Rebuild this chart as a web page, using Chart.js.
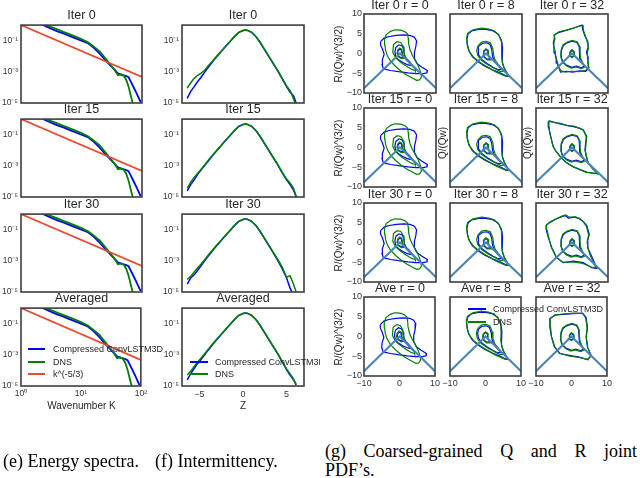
<!DOCTYPE html>
<html><head><meta charset="utf-8">
<script src="https://cdn.jsdelivr.net/npm/chart.js@4.4.1/dist/chart.umd.min.js"></script>
<style>
html,body{margin:0;padding:0;background:#fff;}
#fig{position:relative;width:640px;height:478px;overflow:hidden;background:#fff;font-family:"Liberation Sans",Arial,sans-serif;}
#fig canvas{position:absolute;}
.lbl{position:absolute;white-space:nowrap;color:#262626;line-height:1;}
.cap{position:absolute;white-space:nowrap;font-family:"Liberation Serif","Times New Roman",serif;font-size:18px;color:#000;line-height:1;}
</style></head><body><div id="fig"></div>
<script>
// ---------------- DATA ----------------
// (e) energy spectra: wavenumber and log10(E)
const kWave = [1,1.5,2,3,4,5,6,8,10,13,16,20,25,30,35,40,45,50,55,60,65,70,80,90,95];
const specBlueLog10 = [0.64,0.34,0.12,-0.19,-0.40,-0.53,-0.66,-0.85,-1.0,-1.18,-1.46,-1.83,-2.27,-2.58,-2.86,-3.10,-3.18,-3.23,-3.28,-3.35,-3.61,-3.86,-4.32,-4.75,-4.95];
const specGreenLog10 = [0.6,0.34,0.17,-0.09,-0.28,-0.43,-0.55,-0.74,-0.89,-1.12,-1.38,-1.69,-2.15,-2.53,-2.85,-3.22,-3.16,-3.25,-3.52,-3.95,-4.5,-4.98,-5.6,null,null];
const kolmoK = [1,100];
const kolmoE = [1,4.64e-4];
const specTitles = ["Iter 0","Iter 15","Iter 30","Averaged"];
const specYTicks = [1e-5,1e-3,1e-1];
const specXTicks = [1,10,100];

// (f) intermittency PDFs: Z and log10(P)
const zGrid = [-6.4,-6.0,-5.6,-5.2,-4.8,-4.4,-4.0,-3.5,-3.0,-2.5,-2.0,-1.5,-1.0,-0.5,0.0,0.25,0.5,1.0,1.5,2.0,2.5,3.0,3.5,4.0,4.5,5.0,5.4,5.8,6.1];
const pdfIter0Blue   = [-4.7,-4.25,-3.95,-3.62,-3.35,-3.02,-2.72,-2.36,-2.02,-1.7,-1.38,-1.07,-0.75,-0.48,-0.35,-0.32,-0.34,-0.47,-0.75,-1.15,-1.6,-2.05,-2.5,-2.95,-3.45,-3.95,-4.3,-4.55,-4.98];
const pdfIter0Green  = [-4.05,-3.7,-3.42,-3.22,-3.08,-2.9,-2.62,-2.3,-1.98,-1.68,-1.36,-1.05,-0.74,-0.47,-0.34,-0.31,-0.33,-0.46,-0.74,-1.13,-1.58,-2.03,-2.48,-2.92,-3.42,-3.9,-4.2,-4.72,-5.2];
const pdfIter15Blue  = [-4.6,-4.2,-3.9,-3.55,-3.25,-2.98,-2.7,-2.35,-2.02,-1.7,-1.38,-1.07,-0.75,-0.48,-0.35,-0.32,-0.34,-0.47,-0.75,-1.15,-1.6,-2.05,-2.5,-2.95,-3.45,-3.9,-4.2,-4.55,-5.0];
const pdfIter15Green = [-4.45,-4.05,-3.75,-3.48,-3.22,-2.95,-2.66,-2.32,-2.0,-1.68,-1.36,-1.05,-0.74,-0.47,-0.34,-0.31,-0.33,-0.46,-0.74,-1.13,-1.58,-2.03,-2.48,-2.92,-3.4,-3.85,-4.1,-4.45,-4.95];
const pdfIter30Blue  = [-4.5,-4.1,-3.9,-3.6,-3.3,-3.0,-2.7,-2.35,-2.02,-1.7,-1.38,-1.07,-0.75,-0.48,-0.35,-0.32,-0.34,-0.47,-0.75,-1.15,-1.6,-2.05,-2.5,-2.98,-3.5,-4.1,-4.75,-5.2,-5.5];
const pdfIter30Green = [-4.2,-4.0,-3.72,-3.45,-3.2,-2.92,-2.64,-2.3,-1.98,-1.68,-1.36,-1.05,-0.74,-0.47,-0.34,-0.31,-0.33,-0.46,-0.74,-1.13,-1.58,-2.03,-2.48,-2.92,-3.4,-4.05,-3.95,-4.5,-5.0];
const pdfAveBlue     = [-4.6,-4.2,-3.88,-3.55,-3.28,-3.0,-2.7,-2.35,-2.02,-1.7,-1.38,-1.07,-0.75,-0.48,-0.35,-0.32,-0.34,-0.47,-0.75,-1.15,-1.6,-2.05,-2.5,-2.95,-3.45,-3.95,-4.3,-4.6,-4.95];
const pdfAveGreen    = [-4.3,-4.05,-3.75,-3.45,-3.2,-2.93,-2.65,-2.31,-1.99,-1.68,-1.36,-1.05,-0.74,-0.47,-0.34,-0.31,-0.33,-0.46,-0.74,-1.13,-1.58,-2.03,-2.48,-2.92,-3.42,-3.9,-4.22,-4.55,-4.9];
const zTicks = [-5,0,5];

// (g) Q-R joint PDF contours (closed loops), per radius column
const tentLine = [[-10,-8.8],[0,0],[10,-8.8]];
const r0BlueOuter  = [[-5.4,3.0],[-4.4,3.9],[-3.0,4.3],[-1.0,4.6],[1.0,4.7],[2.8,4.6],[4.0,4.1],[4.6,3.2],[4.4,1.8],[4.0,0.2],[4.0,-1.2],[4.7,-2.5],[6.0,-3.4],[7.6,-4.3],[7.5,-4.9],[6.5,-5.1],[4.6,-5.1],[2.2,-4.9],[-0.4,-4.6],[-2.6,-4.3],[-4.6,-3.9],[-5.0,-2.8],[-4.9,-1.6],[-4.4,-0.2],[-4.9,1.2],[-5.4,2.1]];
const r0GreenOuter = [[-4.3,3.6],[-3.8,4.8],[-2.6,5.6],[-1.4,6.0],[0.2,5.9],[1.4,5.5],[2.1,4.9],[2.3,3.8],[2.4,2.5],[2.8,0.9],[3.4,-0.4],[4.2,-1.7],[5.0,-3.0],[5.6,-4.4],[5.9,-5.3],[5.9,-6.1],[5.4,-6.7],[4.6,-6.8],[3.4,-6.2],[2.0,-5.5],[0.5,-4.6],[-1.2,-3.3],[-2.6,-2.0],[-3.5,-0.6],[-4.0,0.8],[-4.2,2.2]];
const r0BlueMid    = [[-1.2,1.5],[-0.3,2.2],[0.6,1.9],[1.1,1.0],[1.2,-0.3],[1.7,-1.2],[2.6,-2.0],[3.3,-2.8],[2.8,-3.0],[2.0,-2.8],[0.8,-2.3],[-0.4,-1.6],[-1.2,-0.8],[-1.4,0.4]];
const r0GreenMid   = [[-1.8,2.3],[-0.8,3.0],[0.2,2.8],[0.9,1.8],[1.1,0.2],[1.6,-1.4],[2.8,-2.7],[4.2,-3.9],[4.3,-4.3],[3.4,-4.1],[1.8,-3.2],[0.2,-2.2],[-1.2,-1.1],[-2.0,0.3]];
const r0BlueInner  = [[-0.6,0.6],[-0.1,1.1],[0.4,0.9],[0.6,-0.2],[1.0,-1.0],[0.4,-1.1],[-0.4,-0.7],[-0.7,0.0]];
const r0GreenInner = [[-0.7,0.8],[-0.1,1.4],[0.5,1.1],[0.7,-0.1],[1.3,-1.2],[0.4,-1.3],[-0.5,-0.8],[-0.8,0.1]];

const r8BlueOuter  = [[-5.3,3.6],[-5.0,4.9],[-4.0,5.7],[-2.0,6.1],[0.0,6.1],[1.8,5.8],[3.4,4.9],[4.3,3.4],[4.6,1.5],[4.5,-0.5],[4.5,-2.2],[5.0,-3.6],[5.8,-4.9],[6.2,-5.8],[5.4,-5.6],[4.2,-5.0],[2.0,-4.2],[-0.3,-3.2],[-2.2,-2.1],[-3.8,-0.8],[-4.8,0.8],[-5.2,2.2]];
const r8GreenOuter = [[-5.4,3.8],[-5.1,5.1],[-3.6,6.0],[-1.2,6.4],[0.8,6.2],[2.4,5.7],[3.6,4.6],[4.3,2.9],[4.4,0.8],[4.3,-1.0],[4.7,-2.8],[5.4,-4.4],[6.3,-5.8],[5.6,-5.8],[4.6,-5.4],[2.6,-4.6],[0.4,-3.4],[-1.6,-2.3],[-3.4,-1.0],[-4.6,0.4],[-5.1,2.0]];
const r8BlueMid    = [[-2.0,1.8],[-1.0,2.6],[0.2,2.7],[1.1,2.3],[1.6,1.0],[1.8,-0.6],[2.3,-1.9],[3.4,-3.1],[4.3,-4.0],[3.4,-4.1],[2.0,-3.5],[0.4,-2.6],[-1.2,-1.5],[-2.0,-0.4],[-2.2,0.8]];
const r8GreenMid   = [[-2.2,2.0],[-1.2,2.9],[0.0,3.1],[1.2,2.7],[1.9,1.2],[2.1,-0.4],[2.6,-1.8],[3.8,-3.2],[5.0,-4.5],[4.0,-4.5],[2.4,-3.8],[0.6,-2.9],[-1.2,-1.8],[-2.3,-0.5],[-2.6,0.8]];
const r8BlueInner  = [[-0.6,0.5],[0.0,1.0],[0.5,0.7],[0.6,-0.5],[1.2,-1.4],[0.2,-1.4],[-0.6,-0.7]];
const r8GreenInner = [[-0.7,0.6],[0.0,1.2],[0.6,0.8],[0.7,-0.5],[1.5,-1.6],[0.3,-1.6],[-0.8,-0.7]];

const r32Iter0BlueOuter  = [[-4.9,3.8],[-4.9,4.6],[-3.8,5.3],[-1.9,5.8],[0.4,6.4],[1.8,6.9],[2.8,7.2],[3.0,6.0],[3.6,4.4],[4.4,3.0],[4.5,1.6],[4.0,0.4],[4.5,-1.0],[4.4,-2.4],[4.7,-3.6],[3.8,-4.5],[2.0,-4.4],[0.2,-4.7],[-1.6,-4.5],[-3.2,-4.7],[-3.6,-3.6],[-4.2,-2.4],[-4.4,-1.0],[-4.8,0.2],[-5.0,1.6],[-5.2,2.6]];
const r32Iter0GreenOuter = [[-4.7,3.8],[-5.0,4.7],[-3.6,5.5],[-1.6,5.9],[0.6,6.5],[2.0,6.9],[3.0,7.1],[3.2,5.8],[3.7,4.5],[4.2,3.1],[4.6,1.4],[4.2,0.2],[4.3,-1.2],[4.6,-2.6],[4.5,-3.8],[3.6,-4.3],[2.0,-4.6],[0.0,-4.5],[-1.8,-4.7],[-3.0,-4.4],[-3.8,-3.4],[-4.0,-2.2],[-4.6,-0.8],[-4.6,0.4],[-5.1,1.8],[-5.0,2.8]];
const r32Iter15BlueOuter  = [[-6.6,6.6],[-5.0,6.4],[-3.3,6.0],[-1.4,5.6],[0.4,5.3],[2.0,4.9],[3.1,4.5],[4.1,2.8],[3.8,1.2],[3.6,-0.6],[4.0,-2.4],[4.5,-4.0],[5.8,-5.4],[7.3,-6.6],[5.6,-6.5],[4.1,-6.2],[2.2,-5.6],[0.4,-4.9],[-1.6,-3.8],[-3.3,-2.3],[-4.4,-1.0],[-5.2,0.2],[-5.7,2.0],[-6.1,3.6],[-6.5,5.2]];
const r32Iter15GreenOuter = [[-6.4,6.8],[-4.8,6.3],[-3.1,6.1],[-1.2,5.5],[0.6,5.4],[2.2,4.8],[3.2,4.3],[4.0,2.6],[3.9,1.0],[3.7,-0.8],[4.1,-2.6],[4.6,-4.1],[5.9,-5.5],[7.2,-6.7],[5.4,-6.4],[3.9,-6.3],[2.0,-5.5],[0.2,-4.8],[-1.8,-3.7],[-3.4,-2.1],[-4.6,-0.8],[-5.3,0.4],[-5.8,2.2],[-6.2,3.8],[-6.4,5.4]];
const r32Iter30BlueOuter  = [[-7.2,3.4],[-7.2,4.3],[-6.1,5.1],[-4.3,6.0],[-2.6,6.6],[-1.9,6.8],[-1.0,6.2],[0.8,6.4],[2.0,6.0],[3.1,5.3],[4.1,4.3],[4.8,2.1],[4.3,0.2],[4.4,-1.4],[5.2,-3.0],[6.0,-4.6],[6.9,-6.6],[5.5,-6.4],[3.1,-5.1],[0.4,-4.7],[-2.4,-5.1],[-4.3,-3.8],[-5.6,-1.3],[-6.6,1.3]];
const r32Iter30GreenOuter = [[-7.0,3.3],[-7.1,4.5],[-5.9,5.3],[-4.1,6.1],[-2.4,6.8],[-1.7,7.0],[-0.8,6.4],[1.0,6.5],[2.2,6.1],[3.2,5.2],[4.0,4.1],[4.6,2.0],[4.2,0.0],[4.5,-1.6],[5.0,-3.1],[5.8,-4.7],[6.6,-6.4],[5.3,-6.2],[3.0,-5.3],[0.2,-4.9],[-2.6,-5.0],[-4.5,-3.6],[-5.8,-1.1],[-6.5,1.5]];
const r32AveBlueOuter  = [[-6.1,2.4],[-6.1,4.5],[-4.7,5.4],[-2.4,5.6],[0.4,5.8],[3.1,5.9],[4.1,4.9],[4.5,2.4],[4.1,-0.1],[4.5,-2.7],[5.5,-4.8],[4.6,-5.9],[2.2,-5.2],[-0.6,-4.8],[-3.3,-4.3],[-4.7,-2.7],[-5.6,-0.1]];
const r32AveGreenOuter = [[-5.9,2.5],[-6.0,4.6],[-4.5,5.5],[-2.2,5.7],[0.6,5.9],[3.2,5.8],[4.0,4.7],[4.4,2.2],[4.2,-0.3],[4.6,-2.9],[5.6,-4.9],[4.4,-5.8],[2.0,-5.3],[-0.8,-4.9],[-3.5,-4.2],[-4.9,-2.5],[-5.7,0.1]];
const r32BlueMid    = [[-2.4,2.0],[-1.4,2.7],[0.0,3.1],[1.4,2.8],[2.0,1.8],[2.1,0.4],[2.2,-1.2],[2.9,-2.4],[3.4,-3.2],[2.6,-3.6],[1.2,-3.2],[0.0,-3.5],[-1.4,-3.0],[-2.5,-2.2],[-3.0,-1.0],[-3.0,0.6]];
const r32GreenMid   = [[-2.5,2.2],[-1.3,2.9],[0.1,3.3],[1.5,2.9],[2.1,1.8],[2.2,0.2],[2.4,-1.3],[3.1,-2.6],[3.6,-3.4],[2.6,-3.8],[1.0,-3.4],[-0.2,-3.7],[-1.6,-3.1],[-2.7,-2.1],[-3.1,-0.8],[-3.0,0.9]];
const r32BlueInner  = [[-0.5,0.3],[0.0,0.8],[0.5,0.4],[0.6,-0.5],[0.0,-0.9],[-0.6,-0.5]];
const r32GreenInner = [[-0.6,0.4],[0.0,1.0],[0.6,0.5],[0.7,-0.6],[0.0,-1.0],[-0.7,-0.5]];
const qrRowNames = ["Iter 0","Iter 15","Iter 30","Ave"];
const qrRadii = ["r = 0","r = 8","r = 32"];
const qrYTicks = [-10,-5,0,5,10];
const qrXTicks = [-10,0,10];

// ---------------- DRAWING ----------------
const FONT = '"Liberation Sans", Arial, sans-serif';
const BLUE = '#0000ff', GREEN = '#008000', RED = '#e8492f', TENT = '#4a84b6', SPINE = '#3d3d3d';
const fig = document.getElementById('fig');

const boxPlugin = {id:'box', afterDatasetsDraw(c){
  const a = c.chartArea, x = c.ctx; x.save(); x.strokeStyle = SPINE; x.lineWidth = 1.6;
  x.strokeRect(a.left, a.top, a.right - a.left, a.bottom - a.top); x.restore(); }};

const SUP = {'0':'⁰','1':'¹','2':'²','3':'³','4':'⁴','5':'⁵','-':'⁻'};
const logFmt = v => '10' + String(Math.round(Math.log10(v))).split('').map(ch => SUP[ch]).join('');
const numFmt = v => String(v).replace('-', '\u2212');

function panel(o){
  const W = o.padL + o.w + o.padR, H = o.padT + o.h + o.padB;
  const cv = document.createElement('canvas'); cv.width = W; cv.height = H;
  cv.style.left = (o.left - o.padL) + 'px'; cv.style.top = (o.top - o.padT) + 'px';
  cv.style.width = W + 'px'; cv.style.height = H + 'px';
  fig.appendChild(cv);
  const ax = (sp, pos, size) => ({
    type: sp.type, position: pos, min: sp.min, max: sp.max,
    grid: {display:false, drawTicks:false}, border: {display:false},
    ticks: {display: sp.show, color:'#333', font:{family:FONT, size: sp.fs || 8.5}, padding: sp.pad,
            autoSkip:false, maxRotation:0, minRotation:0, callback: v => sp.fmt(v)},
    afterBuildTicks: s => { s.ticks = sp.ticks.map(v => ({value:v})); },
    afterFit: s => { if (pos === 'bottom') s.height = size; else s.width = size; }
  });
  return new Chart(cv, {type:'scatter', data:{datasets:o.datasets},
    options:{responsive:false, animation:false, events:[], devicePixelRatio:1,
      layout:{padding:{left:0, top:o.padT, right:o.padR, bottom:0}},
      plugins:{legend:{display:false}, tooltip:{enabled:false}, title:{display:false}},
      scales:{x: ax(o.x, 'bottom', o.padB), y: ax(o.y, 'left', o.padL)}},
    plugins:[boxPlugin]});
}
const ds = (pts, color, w) => ({data: pts, borderColor: color, backgroundColor: color, borderWidth: w,
  pointRadius: 0, showLine: true, fill: false, tension: 0});
const xyLog = (xs, logs) => xs.map((x, i) => ({x: x, y: logs[i] === null ? null : Math.pow(10, logs[i])}));
const xyPlain = (xs, ys) => xs.map((x, i) => ({x: x, y: ys[i]}));
const loop = pts => pts.concat([pts[0]]).map(p => ({x: p[0], y: p[1]}));
const open = pts => pts.map(p => ({x: p[0], y: p[1]}));

function txt(s, x, y, size, mode, parent, extra){
  const d = document.createElement('div'); d.className = 'lbl'; d.textContent = s;
  d.style.left = x + 'px'; d.style.top = y + 'px'; d.style.fontSize = size + 'px';
  d.style.transform = mode === 'left' ? 'translate(0,-50%)' :
    mode === 'rot' ? 'translate(-50%,-50%) rotate(-90deg)' : 'translate(-50%,-50%)';
  if (extra) Object.assign(d.style, extra);
  (parent || fig).appendChild(d); return d;
}
function legendRow(parent, x0, y, len, color, lw, label, tx){
  const l = document.createElement('div');
  Object.assign(l.style, {position:'absolute', left:x0+'px', top:(y - lw/2)+'px', width:len+'px', height:lw+'px', background:color});
  parent.appendChild(l);
  txt(label, tx, y, 9, 'left', parent);
}

const rowTopsEF = [25, 119, 214, 308];
const rowTopsG = [14, 108, 203, 297];

// (e) energy spectra
const specBlue = xyLog(kWave, specBlueLog10);
const specGreen = xyLog(kWave, specGreenLog10);
const kolmo = xyPlain(kolmoK, kolmoE);
rowTopsEF.forEach((t, i) => {
  panel({left:21, top:t, w:121, h:78, padL:21, padR:8, padT:8, padB:16,
    x:{type:'logarithmic', min:1, max:100, ticks:specXTicks, show:i === 3, pad:3, fmt:logFmt},
    y:{type:'logarithmic', min:1e-5, max:1, ticks:specYTicks, show:true, pad:3, fmt:logFmt},
    datasets:[ds(kolmo, RED, 1.8), ds(specGreen, GREEN, 1.8), ds(specBlue, BLUE, 1.8)]});
  txt(specTitles[i], 81.5, t - 10, 12.5, 'c');
});

// (f) intermittency
const pdfSets = [[pdfIter0Blue, pdfIter0Green],[pdfIter15Blue, pdfIter15Green],[pdfIter30Blue, pdfIter30Green],[pdfAveBlue, pdfAveGreen]];
rowTopsEF.forEach((t, i) => {
  panel({left:182, top:t, w:122, h:78, padL:32, padR:8, padT:8, padB:16,
    x:{type:'linear', min:-7, max:7, ticks:zTicks, show:i === 3, pad:3, fmt:numFmt, fs:9},
    y:{type:'logarithmic', min:1e-5, max:1, ticks:specYTicks, show:true, pad:3, fmt:logFmt},
    datasets:[ds(xyLog(zGrid, pdfSets[i][1]), GREEN, 1.5), ds(xyLog(zGrid, pdfSets[i][0]), BLUE, 1.5)]});
  txt(specTitles[i], 243, t - 10, 12.5, 'c');
});

// (g) Q-R contours
const colLefts = [364, 450, 536];
const outerByRow = [
  [r0BlueOuter, r0GreenOuter, r8BlueOuter, r8GreenOuter, r32Iter0BlueOuter, r32Iter0GreenOuter],
  [r0BlueOuter, r0GreenOuter, r8BlueOuter, r8GreenOuter, r32Iter15BlueOuter, r32Iter15GreenOuter],
  [r0BlueOuter, r0GreenOuter, r8BlueOuter, r8GreenOuter, r32Iter30BlueOuter, r32Iter30GreenOuter],
  [r0BlueOuter, r0GreenOuter, r8BlueOuter, r8GreenOuter, r32AveBlueOuter, r32AveGreenOuter]];
const innerByCol = [
  [r0BlueMid, r0GreenMid, r0BlueInner, r0GreenInner],
  [r8BlueMid, r8GreenMid, r8BlueInner, r8GreenInner],
  [r32BlueMid, r32GreenMid, r32BlueInner, r32GreenInner]];
rowTopsG.forEach((t, r) => {
  colLefts.forEach((lx, c) => {
    const bo = outerByRow[r][2*c], go = outerByRow[r][2*c + 1];
    const inn = innerByCol[c];
    panel({left:lx, top:t, w:72, h:79, padL: c === 0 ? 30 : 10, padR:6, padT:8, padB:14,
      x:{type:'linear', min:-10, max:10, ticks:qrXTicks, show:r === 3, pad:2, fmt:numFmt, fs:9},
      y:{type:'linear', min:-10, max:10, ticks:qrYTicks, show:c === 0, pad:2, fmt:numFmt, fs:9},
      datasets:[ds(open(tentLine), TENT, 2),
        ds(loop(inn[3]), GREEN, 1.2), ds(loop(inn[1]), GREEN, 1.2), ds(loop(go), GREEN, 1.2),
        ds(loop(inn[2]), BLUE, 1.2), ds(loop(inn[0]), BLUE, 1.2), ds(loop(bo), BLUE, 1.2)]});
    txt(qrRowNames[r] + ' ' + qrRadii[c], lx + 36, t - 9.5, 12.5, 'c');
  });
  txt('R/(Qw)^(3/2)', 338.5, t + 39.5, 10, 'rot');
});
txt('Q/(Qw)', 443, 143, 10, 'rot');
txt('Q/(Qw)', 528, 143, 10, 'rot');

// axis labels
txt('Wavenumber K', 81.5, 406, 10, 'c');
txt('Z', 243, 406, 10, 'c');

// legends
legendRow(fig, 28, 349.3, 17, BLUE, 2, 'Compressed ConvLSTM3D', 53);
legendRow(fig, 28, 361.7, 17, GREEN, 2, 'DNS', 53);
legendRow(fig, 28, 374.3, 17, RED, 2, 'k^(-5/3)', 53);
const fLeg = document.createElement('div');
Object.assign(fLeg.style, {position:'absolute', left:'150px', top:'340px', width:'170px', height:'50px', overflow:'hidden'});
fig.appendChild(fLeg);
legendRow(fLeg, 40, 22, 18, BLUE, 2.5, 'Compressed ConvLSTM3D', 65);
legendRow(fLeg, 40, 34, 18, GREEN, 2.5, 'DNS', 65);
legendRow(fig, 468, 309, 18, BLUE, 2, 'Compressed ConvLSTM3D', 493);
legendRow(fig, 468, 322, 18, GREEN, 2, 'DNS', 493);

// captions
function cap(s, x, y, extra){
  const d = document.createElement('div'); d.className = 'cap'; d.textContent = s;
  d.style.left = x + 'px'; d.style.top = y + 'px'; d.style.transform = 'translate(0,-50%)';
  if (extra) Object.assign(d.style, extra);
  fig.appendChild(d);
}
cap('(e) Energy spectra.', 3, 461);
cap('(f) Intermittency.', 155, 461);
cap('(g) Coarsed-grained Q and R joint', 325, 451, {width:'312px', textAlign:'justify', textAlignLast:'justify', whiteSpace:'normal'});
cap('PDF\u2019s.', 325, 470);
</script></body></html>
